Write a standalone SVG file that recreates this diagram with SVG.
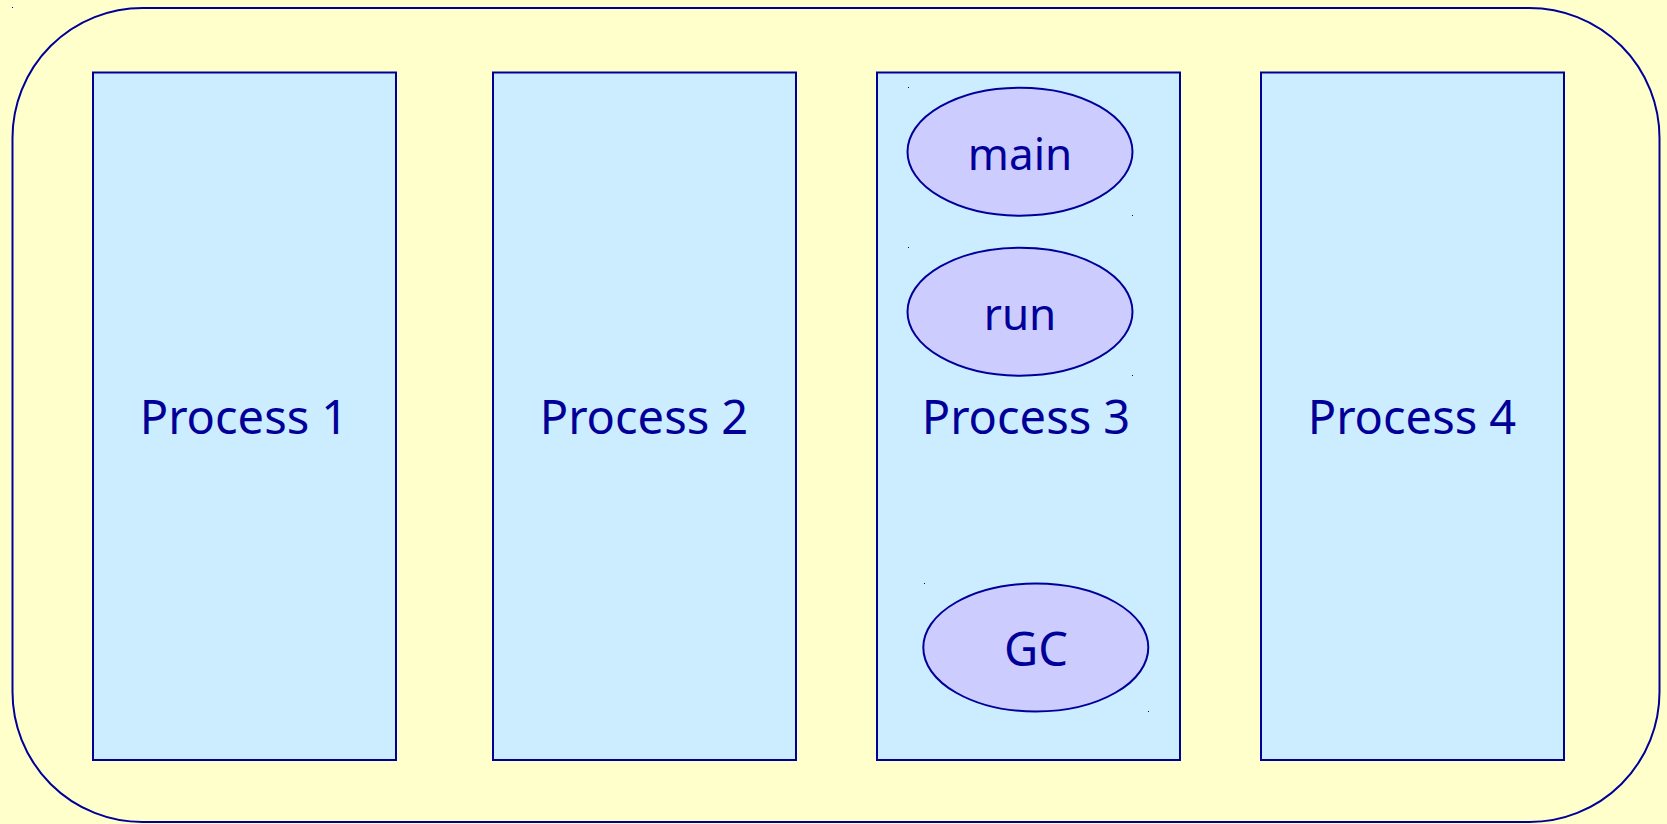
<svg xmlns="http://www.w3.org/2000/svg" width="1667" height="824" viewBox="0 0 1667 824">
  <style>
    .frame { fill: #FFFFCC; stroke: #000099; stroke-width: 2; }
    .proc { fill: #CCECFF; stroke: #000099; stroke-width: 2; }
    .thread { fill: #CCCCFF; stroke: #000099; stroke-width: 2; }
    .label { font-family: "Comic Sans MS", "Noto Sans", sans-serif; font-size: 47px; fill: #000099; text-anchor: middle; }
    .small { font-size: 44px; }
    .tick { fill: #000099; }
  </style>
  <rect x="0" y="0" width="1667" height="824" fill="#FFFFCC"/>
  <g id="system">
    <rect class="frame" x="12.5" y="8" width="1647" height="814" rx="130" ry="130"/>
    <rect class="tick" x="12" y="7" width="1" height="1"/>
  </g>
  <g id="process1">
    <rect class="proc" x="93" y="72.5" width="303" height="687.5"/>
    <text class="label" x="244" y="434">Process 1</text>
  </g>
  <g id="process2">
    <rect class="proc" x="493" y="72.5" width="303" height="687.5"/>
    <text class="label" x="644" y="434">Process 2</text>
  </g>
  <g id="process3">
    <rect class="proc" x="877" y="72.5" width="303" height="687.5"/>
    <text class="label" x="1026" y="434">Process 3</text>
  </g>
  <g id="thread-main">
    <ellipse class="thread" cx="1020" cy="151.7" rx="112.5" ry="64"/>
    <text class="label small" x="1020" y="170">main</text>
    <rect class="tick" x="908" y="87" width="1" height="1"/>
    <rect class="tick" x="1132" y="215" width="1" height="1"/>
  </g>
  <g id="thread-run">
    <ellipse class="thread" cx="1020" cy="311.7" rx="112.5" ry="64"/>
    <text class="label small" x="1020" y="330">run</text>
    <rect class="tick" x="908" y="247" width="1" height="1"/>
    <rect class="tick" x="1132" y="375" width="1" height="1"/>
  </g>
  <g id="thread-gc">
    <ellipse class="thread" cx="1035.8" cy="647.5" rx="112.5" ry="64"/>
    <text class="label" x="1036" y="666">GC</text>
    <rect class="tick" x="924" y="583" width="1" height="1"/>
    <rect class="tick" x="1148" y="711" width="1" height="1"/>
  </g>
  <g id="process4">
    <rect class="proc" x="1261" y="72.5" width="303" height="687.5"/>
    <text class="label" x="1412" y="434">Process 4</text>
  </g>
  <g id="connectors"/>
</svg>
